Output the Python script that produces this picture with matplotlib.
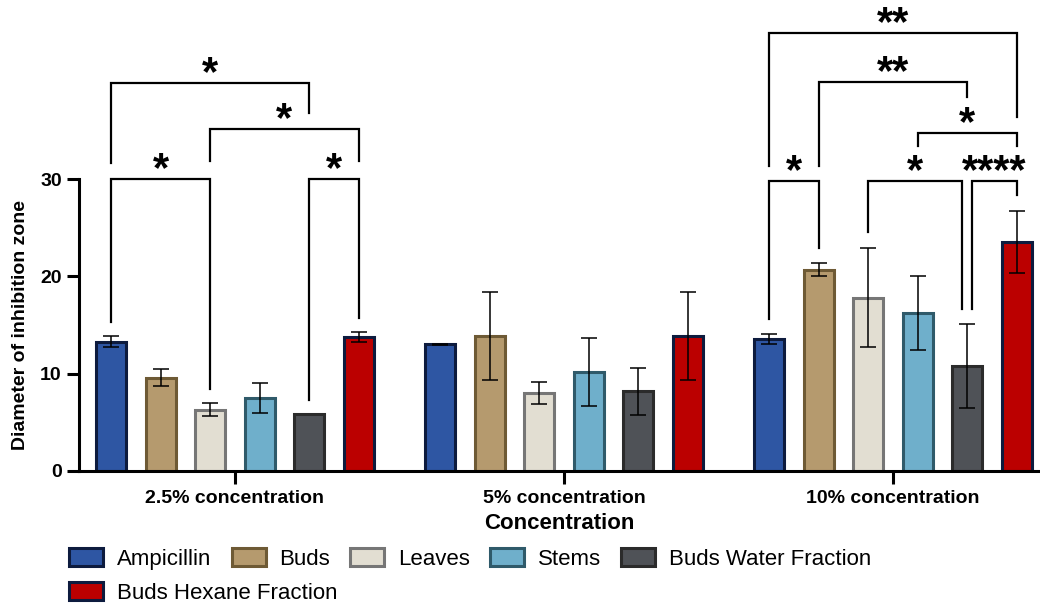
import matplotlib
matplotlib.use("Agg")
import matplotlib.pyplot as plt
import numpy as np

plt.rcParams["font.family"] = ["Liberation Sans", "DejaVu Sans"]

groups = ["2.5% concentration", "5% concentration", "10% concentration"]
series = ["Ampicillin", "Buds", "Leaves", "Stems", "Buds Water Fraction", "Buds Hexane Fraction"]

# mean inhibition zone per series, one value per concentration
ampicillin = [13.3, 13.0, 13.6]
buds = [9.6, 13.9, 20.7]
leaves = [6.3, 8.0, 17.8]
stems = [7.5, 10.2, 16.2]
buds_water = [5.9, 8.2, 10.8]
buds_hexane = [13.8, 13.9, 23.5]

ampicillin_sd = [0.6, 0.05, 0.5]
buds_sd = [0.9, 4.5, 0.7]
leaves_sd = [0.7, 1.1, 5.1]
stems_sd = [1.5, 3.5, 3.8]
buds_water_sd = [0.0, 2.4, 4.3]
buds_hexane_sd = [0.5, 4.5, 3.2]

means = [ampicillin, buds, leaves, stems, buds_water, buds_hexane]
sds = [ampicillin_sd, buds_sd, leaves_sd, stems_sd, buds_water_sd, buds_hexane_sd]

face_colors = ["#2E56A3", "#B59A6E", "#E2DED2", "#6FAFCB", "#4F5257", "#BB0000"]
edge_colors = ["#0D1B3E", "#6E5A35", "#767676", "#2F5A6A", "#2B2B2B", "#0D1B3E"]

# significance brackets: group, left bar, right bar, bracket height, leg ends, label
br_group = [0, 0, 0, 0, 2, 2, 2, 2, 2, 2]
br_left = [0, 4, 2, 0, 0, 2, 4, 3, 1, 0]
br_right = [2, 5, 5, 4, 1, 4, 5, 5, 4, 5]
br_height = [30.0, 30.0, 35.1, 39.9, 29.8, 29.8, 29.8, 34.7, 40.0, 45.0]
br_left_end = [15.3, 7.3, 31.9, 31.7, 15.6, 24.6, 16.6, 33.4, 31.3, 31.3]
br_right_end = [8.4, 15.7, 31.9, 36.8, 22.9, 16.6, 28.4, 33.4, 38.4, 36.4]
br_label = ["*", "*", "*", "*", "*", "*", "****", "*", "**", "**"]
br_left_shift = [0, 0, 0, 0, 0, 0, 0.1, 0, 0, 0]
br_right_shift = [0, 0, 0, 0, 0, 0.1, 0, 0, 0, 0]

step = 0.1504
width = 0.092

fig = plt.figure(figsize=(10.4, 6.05), dpi=100)
ax = fig.add_axes([0.076, 0.2215, 0.924, 0.7785])

gx = np.arange(len(groups))
for i, name in enumerate(series):
    x = gx + (i - 2.5) * step
    ax.bar(x, means[i], width, color=face_colors[i], edgecolor=edge_colors[i],
           linewidth=2.2, label=name, zorder=2)
    err = np.array(sds[i])
    has = err > 0
    ax.errorbar(x[has], np.array(means[i])[has], yerr=err[has], fmt="none", ecolor="black",
                elinewidth=1.1, capsize=5.5, capthick=1.1, zorder=3)


def bar_x(g, i):
    return g + (i - 2.5) * step


for k in range(len(br_label)):
    g = br_group[k]
    x1 = bar_x(g, br_left[k]) + br_left_shift[k] * step
    x2 = bar_x(g, br_right[k]) - br_right_shift[k] * step
    h = br_height[k]
    ax.plot([x1, x1, x2, x2], [br_left_end[k], h, h, br_right_end[k]],
            color="black", lw=1.6, solid_joinstyle="miter", clip_on=False, zorder=4)
    ax.annotate(br_label[k], xy=((x1 + x2) / 2, h), xytext=(0, -1.5),
                textcoords="offset points", ha="center", va="baseline",
                fontsize=30, fontweight="bold", annotation_clip=False)

ax.set_xlim(-0.474, 2.447)
ax.set_ylim(0, 48.4)
ax.set_yticks([0, 10, 20, 30])
ax.spines["left"].set_bounds(0, 30)
for side in ["top", "right"]:
    ax.spines[side].set_visible(False)
for side in ["left", "bottom"]:
    ax.spines[side].set_linewidth(2.2)
ax.set_xticks(gx)
ax.set_xticklabels(groups, fontsize=14, fontweight="bold")
ax.tick_params(axis="both", width=2.2, length=9, labelsize=14)
ax.tick_params(axis="x", pad=5)
for lbl in ax.get_yticklabels():
    lbl.set_fontweight("bold")

ax.set_xlabel("Concentration", fontsize=16, fontweight="bold", labelpad=4)
ax.set_ylabel("Diameter of inhibition zone", fontsize=14, fontweight="bold")
ax.yaxis.set_label_coords(-0.052, 0.31)

handles, labels = ax.get_legend_handles_labels()
leg_kw = dict(frameon=False, fontsize=16, handlelength=1.53, handleheight=0.85,
              handletextpad=0.63, columnspacing=0.9, borderpad=0, borderaxespad=0)
fig.legend(handles[:5], labels[:5], ncol=5, loc="upper left",
           bbox_to_anchor=(0.0665, 0.094), **leg_kw)
fig.legend(handles[5:], labels[5:], ncol=1, loc="upper left",
           bbox_to_anchor=(0.0665, 0.038), **leg_kw)

fig.savefig("out.png", dpi=100)
